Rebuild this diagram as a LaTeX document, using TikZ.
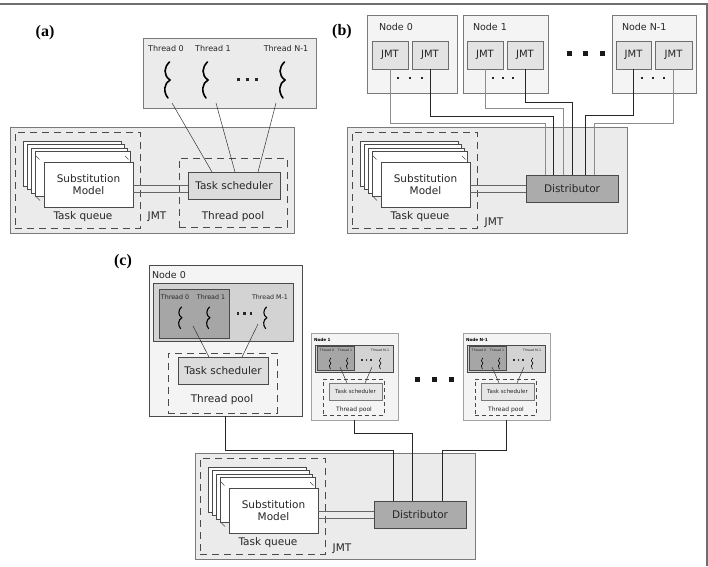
\documentclass[tikz,border=0pt]{standalone}
\usepackage{fontspec}
\setmainfont{DejaVu Sans}
\newfontfamily\panelfont{Liberation Serif}
\usetikzlibrary{calc}
\definecolor{framecol}{HTML}{6E6E6E}
\definecolor{lightfill}{HTML}{EBEBEB}
\definecolor{nodefill}{HTML}{F4F4F4}
\definecolor{schedfill}{HTML}{DCDCDC}
\definecolor{distfill}{HTML}{ABABAB}
\definecolor{darkfill}{HTML}{A6A6A6}
\definecolor{jmtfill}{HTML}{E3E3E3}
\definecolor{edgegray}{HTML}{7A7A7A}
\definecolor{edgedark}{HTML}{4A4A4A}
\tikzset{
  every node/.style={inner sep=0pt, outer sep=0pt},
  panel/.style={font=\panelfont\bfseries\fontsize{16}{18}\selectfont},
  lbl/.style={font=\fontsize{10.5}{12.5}\selectfont, text=black!85},
  nlab/.style={font=\fontsize{9.5}{11}\selectfont, text=black!85},
  tlab/.style={font=\fontsize{8}{9}\selectfont, text=black!85},
  tlabm/.style={font=\fontsize{6.3}{7}\selectfont, text=black!85},
  tlabs/.style={font=\fontsize{3.2}{4}\selectfont, text=black!85},
  tbox/.style={fill=lightfill, draw=edgegray, line width=0.8pt},
  jbox/.style={fill=lightfill, draw=edgegray, line width=0.9pt},
  dbox/.style={draw=edgedark, line width=0.9pt, dash pattern=on 7pt off 5pt},
  dboxs/.style={draw=edgedark, line width=0.6pt, dash pattern=on 4pt off 3pt},
  page/.style={fill=white, draw=edgedark, line width=0.6pt},
  sbox/.style={fill=schedfill, draw=edgedark, line width=0.8pt, font=\fontsize{10.5}{12.5}\selectfont, text=black!85},
  ssched/.style={fill=schedfill!70!white, draw=edgegray, line width=0.5pt, font=\fontsize{5.5}{6}\selectfont, text=black!85},
  distbox/.style={fill=distfill, draw=edgedark, line width=1pt, font=\fontsize{10.5}{12.5}\selectfont, text=black!85},
  nbox/.style={fill=nodefill, draw=edgegray, line width=0.8pt},
  bignode/.style={fill=nodefill, draw=edgedark, line width=1pt},
  snbox/.style={fill=nodefill, draw=edgegray!70, line width=0.6pt},
  jmtsmall/.style={fill=jmtfill, draw=edgedark!80, line width=0.7pt, font=\fontsize{10}{12}\selectfont, text=black!85},
  thbox/.style={fill=lightfill!90!black, draw=edgedark, line width=0.8pt},
  thboxs/.style={fill=lightfill!90!black, draw=edgedark, line width=0.5pt},
  thdark/.style={fill=darkfill, draw=edgedark, line width=0.8pt},
  thdarks/.style={fill=darkfill, draw=edgedark, line width=0.5pt},
  tline/.style={draw=black!80, line width=0.5pt},
  dline/.style={draw=black!60, line width=0.7pt},
  cgray/.style={draw=black!45, line width=0.8pt},
  cdark/.style={draw=black!85, line width=0.8pt},
  tickl/.style={draw=black!70, line width=0.5pt},
  squig/.pic={\draw[line cap=round] (2.5,0) .. controls (-3,5) and (-4,13) .. (3,18) .. controls (-3,21) and (-4,30) .. (1,36);}
}
\newcommand\rbox[7][]{\node[rectangle, anchor=north west, minimum width={(#5)-(#3)}, minimum height={(#6)-(#4)}, align=center, #1] (#2) at (#3,#4) {#7};}
\newcommand\tqblock[4]{%
\begin{scope}[shift={(#2,#3)}]
\rbox[jbox]{#1box}{10}{127}{#4}{233}{}
\rbox[dbox]{#1tq}{15}{132}{140}{228}{}
\foreach \i in {0,1,2,3} {\rbox[page]{#1pg\i}{23+4*\i}{141+3.5*\i}{121+3*\i}{186+3.5*\i}{}}
\draw[tickl] (36,156) -- (39.5,159.5);
\draw[tickl] (125,156) -- (128.5,159.5);
\draw[tickl] (36.5,197) -- (40,200.5);
\rbox[page]{#1page}{44}{162}{133}{207}{}
\node[lbl, align=center] (#1subst) at (#1page.center) {Substitution\\Model};
\node[lbl] (#1tql) at (83,217) {Task queue};
\end{scope}}
\newcommand\smallnode[3]{%
\begin{scope}[shift={(#2,333)}]
\rbox[snbox]{#1}{0}{0}{87}{87}{}
\node[font=\bfseries\fontsize{4.2}{5}\selectfont, anchor=west] (#1l) at (3,7) {#3};
\rbox[thboxs]{#1th}{4}{12}{82}{39}{}
\rbox[thdarks]{#1thd}{6}{13.5}{43}{37.5}{}
\node[tlabs] (#1l0) at (16,17) {Thread 0};
\node[tlabs] (#1l1) at (34,17) {Thread 1};
\node[tlabs] (#1l2) at (69,17) {Thread M-1};
\pic[scale=0.3, line width=0.6pt] at (19,25) {squig};
\pic[scale=0.3, line width=0.6pt] at (36,25) {squig};
\pic[scale=0.3, line width=0.6pt] at (69,25) {squig};
\foreach \x in {51,55.5,60} {\fill[black!80] (\x-0.8,26.2) rectangle ++(1.6,1.6);}
\rbox[dboxs]{#1tp}{12}{46}{73}{82}{}
\coordinate (#1t0) at (29,34);
\coordinate (#1t2) at (61,34);
\rbox[ssched]{#1sch}{18}{50}{71}{67}{Task scheduler}
\draw[tline] (#1t0) -- ($(#1sch.north west)+(18,0)$);
\draw[tline] (#1t2) -- ($(#1sch.north west)+(36,0)$);
\node[font=\fontsize{6}{7}\selectfont, text=black!85] (#1tpl) at (43,77) {Thread pool};
\end{scope}}
\begin{document}
\begin{tikzpicture}[x=1pt, y=-1pt]
\useasboundingbox (0,0) rectangle (708,566);
\draw[framecol, line width=1.2pt] (0,4) -- (707,4) -- (707,566);

% ---------------- (a) ----------------
\node[panel] (la) at (45,33) {(a)};
\rbox[tbox]{ta}{143}{38}{316}{108}{}
\node[tlab] (ta0l) at (166,49) {Thread 0};
\node[tlab] (ta1l) at (213,49) {Thread 1};
\node[tlab] (ta2l) at (286,49) {Thread N-1};
\pic[line width=1.6pt] at (167,62) {squig};
\pic[line width=1.6pt] at (205,62) {squig};
\pic[line width=1.6pt] at (282,62) {squig};
\foreach \x in {238,247,256} {\fill[black!85] (\x-1.5,77.5) rectangle ++(3,3);}
\tqblock{a}{0}{0}{294}
\rbox[dbox]{atp}{179}{158}{287}{227}{}
\rbox[sbox]{asched}{188}{172}{280}{199}{Task scheduler}
\node[lbl] (ajmt) at (157,217) {JMT};
\node[lbl] (atpl) at (233,217) {Thread pool};
\draw[dline] ($(apage.east)+(0,0.5)$) -- ($(asched.west)+(0,-0.5)$);
\draw[dline] ($(apage.east)+(0,7.5)$) -- ($(asched.west)+(0,6.5)$);
\coordinate (at0) at (172,103);
\coordinate (at1) at (216,103);
\coordinate (at2) at (276,103);
\draw[tline] (at0) -- ($(asched.north west)+(24,0)$);
\draw[tline] (at1) -- ($(asched.north west)+(47,0)$);
\draw[tline] (at2) -- ($(asched.north west)+(70,0)$);

% ---------------- (b) ----------------
\node[panel] (lb) at (342,32) {(b)};
\rbox[nbox]{bn0}{367}{15}{457}{93}{}
\node[nlab, anchor=west] (bn0l) at (379,27) {Node 0};
\rbox[jmtsmall]{bn0a}{372}{41}{408}{69}{JMT}
\rbox[jmtsmall]{bn0b}{412}{41}{448}{69}{JMT}
\foreach \x in {398,410,422} {\fill[black!85] (\x-1.3,76.7) rectangle ++(2.6,2.6);}
\rbox[nbox]{bn1}{463}{15}{548}{93}{}
\node[nlab, anchor=west] (bn1l) at (473,27) {Node 1};
\rbox[jmtsmall]{bn1a}{467}{41}{503}{69}{JMT}
\rbox[jmtsmall]{bn1b}{507}{41}{543}{69}{JMT}
\foreach \x in {493,503,513} {\fill[black!85] (\x-1.3,76.7) rectangle ++(2.6,2.6);}
\rbox[nbox]{bn2}{612}{15}{696}{93}{}
\node[nlab, anchor=west] (bn2l) at (622,27) {Node N-1};
\rbox[jmtsmall]{bn2a}{616}{41}{651}{69}{JMT}
\rbox[jmtsmall]{bn2b}{655}{41}{692}{69}{JMT}
\foreach \x in {642,653,664} {\fill[black!85] (\x-1.3,76.7) rectangle ++(2.6,2.6);}
\foreach \x in {569,585,602} {\fill[black!90] (\x-2.5,50.5) rectangle ++(5,5);}
\tqblock{b}{337}{0}{290}
\node[lbl] (bjmt) at (494,223) {JMT};
\rbox[distbox]{bdist}{526}{175}{618}{202}{Distributor}
\draw[dline] ($(bpage.east)+(0,0.5)$) -- ($(bdist.west)+(0,-3.5)$);
\draw[dline] ($(bpage.east)+(0,7.5)$) -- ($(bdist.west)+(0,3.5)$);
\draw[cgray] (bn0a.south) |- (545,123) -- (545,123 |- bdist.north);
\draw[cdark] (bn0b.south) |- (553,116) -- (553,116 |- bdist.north);
\draw[cgray] (bn1a.south) |- (563,108) -- (563,108 |- bdist.north);
\draw[cdark] (bn1b.south) |- (572,102) -- (572,102 |- bdist.north);
\draw[cdark] (bn2a.south) |- (585,115) -- (585,115 |- bdist.north);
\draw[cgray] (bn2b.south) |- (594,123) -- (594,123 |- bdist.north);

% ---------------- (c) ----------------
\node[panel] (lc) at (123,262) {(c)};
\rbox[bignode]{cn0}{149}{265}{302}{416}{}
\node[nlab, anchor=west] (cn0l) at (152,275) {Node 0};
\rbox[thbox]{cth}{153}{283}{293}{341}{}
\rbox[thdark]{cthd}{159}{289}{229}{338}{}
\node[tlabm] (ct0l) at (175,297) {Thread 0};
\node[tlabm] (ct1l) at (211,297) {Thread 1};
\node[tlabm] (ct2l) at (270,297) {Thread M-1};
\pic[scale=0.6, line width=1.1pt] at (180,307) {squig};
\pic[scale=0.6, line width=1.1pt] at (208,307) {squig};
\pic[scale=0.6, line width=1.1pt] at (265,307) {squig};
\foreach \x in {238,244.5,251} {\fill[black!85] (\x-1.3,312.2) rectangle ++(2.6,2.6);}
\rbox[dbox]{ctp}{168}{353}{277}{413}{}
\rbox[sbox]{csched}{178}{357}{268}{384}{Task scheduler}
\node[lbl] (ctpl) at (222,400) {Thread pool};
\coordinate (ct0) at (193,326);
\coordinate (ct2) at (258,324);
\draw[tline] (ct0) -- ($(csched.north west)+(31,0)$);
\draw[tline] (ct2) -- ($(csched.north west)+(64,0)$);
\smallnode{cn1}{311}{Node 1}
\smallnode{cn2}{463}{Node N-1}
\foreach \x in {417,434,451} {\fill[black!90] (\x-2.5,376.5) rectangle ++(5,5);}
\tqblock{c}{185}{326}{290}
\node[lbl] (cjmt) at (342,549) {JMT};
\rbox[distbox]{cdist}{374}{501}{466}{528}{Distributor}
\draw[dline] ($(cpage.east)+(0,0.5)$) -- ($(cdist.west)+(0,-3.5)$);
\draw[dline] ($(cpage.east)+(0,7.5)$) -- ($(cdist.west)+(0,3.5)$);
\draw[cdark] (cn0.south) |- (393,450) -- (393,450 |- cdist.north);
\draw[cdark] (cn1.south) |- (412,433) -- (412,433 |- cdist.north);
\draw[cdark] (cn2.south) |- (442,450) -- (442,450 |- cdist.north);
\end{tikzpicture}
\end{document}
